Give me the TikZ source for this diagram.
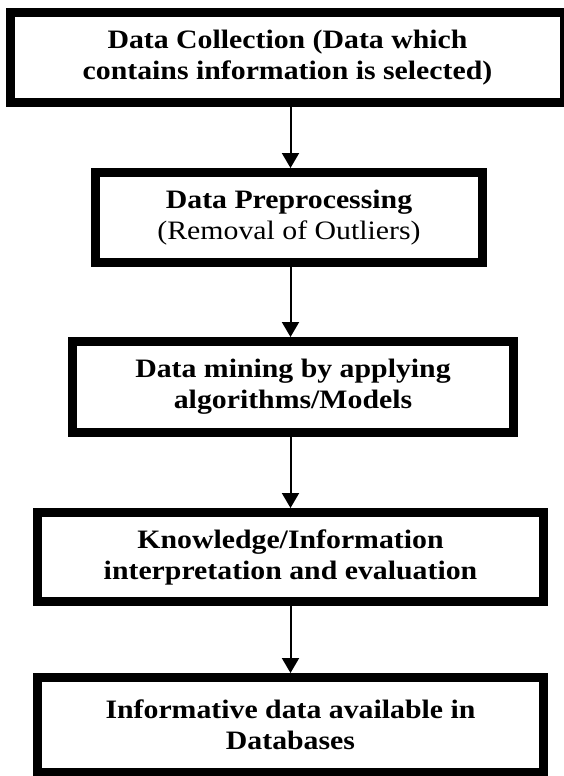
\documentclass[tikz,border=0pt]{standalone}
\usepackage{fontspec}
\setmainfont[FakeStretch=1.12]{Liberation Serif}
\usepackage{tikz}
\usetikzlibrary{arrows.meta, positioning}

\tikzset{
    stage/.style={draw, line width=4.5pt, align=center, inner sep=0pt,
        font=\fontsize{13.3}{15.5}\selectfont\bfseries},
    flow/.style={-{Triangle[length=7.5pt, width=8.5pt]}, line width=1pt}
}

\begin{document}
\begin{tikzpicture}[x=0.5pt, y=-0.5pt]
        \useasboundingbox (0, 0) rectangle (563, 776);

        \node[stage, minimum width=277pt, minimum height=45pt] (collect) at (287.5, 57.5) {Data Collection (Data which\\contains information is selected)};
        \node[stage, minimum width=193.5pt, minimum height=45pt] (prep) at (289, 217.5) {Data Preprocessing\\\mdseries(Removal of Outliers)};
        \node[stage, minimum width=220.5pt, minimum height=45.5pt] (mine) at (293, 387) {Data mining by applying\\algorithms/Models};
        \node[stage, minimum width=253pt, minimum height=44.5pt] (interp) at (290.5, 557) {Knowledge/Information\\interpretation and evaluation};
        \node[stage, minimum width=253pt, minimum height=47.5pt] (info) at (290.5, 725) {Informative data available in\\Databases};

        % arrows run straight down one axis
        \coordinate (axis) at (290.5, 0);
        \draw[flow] (collect.south -| axis) -- (prep.north -| axis);
        \draw[flow] (prep.south -| axis) -- (mine.north -| axis);
        \draw[flow] (mine.south -| axis) -- (interp.north -| axis);
        \draw[flow] (interp.south -| axis) -- (info.north -| axis);
    \end{tikzpicture}
\end{document}
